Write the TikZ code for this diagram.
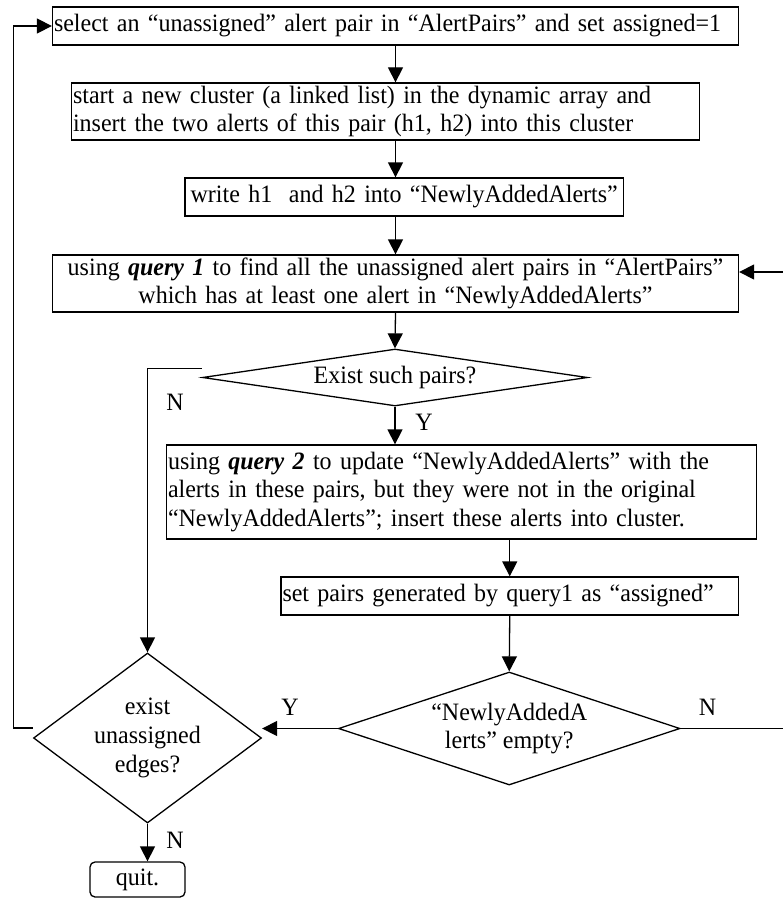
\documentclass[tikz,border=0pt]{standalone}
\usepackage{fontspec}
\setmainfont[FakeStretch=0.96]{Liberation Serif}
\usetikzlibrary{shapes.geometric,arrows.meta}
\begin{document}
\begin{tikzpicture}[x=1pt,y=-1pt,
  font=\fontsize{25}{28.75}\selectfont,
  every path/.style={line width=1.3pt},
  box/.style={draw, line width=1.3pt, rectangle, inner xsep=1.5pt, inner ysep=0pt, anchor=center},
  dec/.style={draw, line width=1.3pt, diamond, inner sep=0pt, align=center, anchor=center},
  arr/.style={-{Triangle[length=15pt,width=15pt]}},
  lbl/.style={inner sep=0pt, anchor=center}]
\useasboundingbox (0,0) rectangle (783,899);
% boxes
\node[box, text width=683pt, minimum height=38pt, align=left] (b1) at (395.5,26)
  {\mbox{select an “unassigned” alert pair in “AlertPairs” and set assigned=1}};
\node[box, text width=625pt, minimum height=57pt, align=left] (b2) at (385.5,111.5)
  {start a new cluster (a linked list) in the dynamic array and\\insert the two alerts of this pair (h1, h2) into this cluster};
\node[box, text width=435.5pt, minimum height=38pt, align=center] (b3) at (404.25,197)
  {write h1\ \ and h2 into “NewlyAddedAlerts”};
\node[box, text width=683pt, minimum height=57pt, align=center] (b4) at (395.5,283.5)
  {using \textbf{\textit{query 1}} to find all the unassigned alert pairs in “AlertPairs”\\which has at least one alert in “NewlyAddedAlerts”};
\node[dec, minimum width=385pt, minimum height=57pt, aspect=6.75] (d1) at (395,377.5)
  {Exist such pairs?};
\node[box, text width=587pt, minimum height=94pt, align=left] (b5) at (461.5,492)
  {using \textbf{\textit{query 2}} to update “NewlyAddedAlerts” with the\\alerts in these pairs, but they were not in the original\\“NewlyAddedAlerts”; insert these alerts into cluster.};
\node[box, text width=454.5pt, minimum height=38pt, align=left] (b6) at (509.75,596)
  {set pairs generated by query1 as “assigned”};
\node[dec, minimum width=341.5pt, minimum height=113pt, aspect=3.0] (d2) at (509.25,728.5)
  {“NewlyAddedA\\lerts” empty?};
\node[dec, minimum width=228pt, minimum height=170pt, aspect=1.34] (d3) at (147.5,738)
  {exist\\unassigned\\edges?};
\node[box, rounded corners=5pt, minimum width=95pt, minimum height=35pt, align=center] (q) at (137.5,879.5)
  {quit.};
% helper coordinates
\coordinate (lf) at (13.5,0);
\coordinate (rt) at (786,0);
% connectors
\draw[arr] (b1.south) -- (b1.south |- b2.north);
\draw[arr] (b1.south |- b2.south) -- (b1.south |- b3.north);
\draw[arr] (b1.south |- b3.south) -- (b4.north);
\draw[arr] (b4.south) -- (d1.north);
\draw[arr] (d1.south) -- (d1.south |- b5.north);
\draw[arr] (b6.north |- b5.south) -- (b6.north);
\draw[arr] (b6.south) -- (d2.north);
\draw[arr] (d2.west) -- (d2.west -| d3.east);
\draw[arr] (d2.east) -- (d2.east -| rt) |- ([yshift=11.5pt]b4.east);
\draw[arr] ([yshift=9pt]d1.west) -| (d3.north);
\draw[arr] ([yshift=10pt]d3.west) -- ([yshift=10pt]d3.west -| lf) |- (b1.west);
\draw[arr] (d3.south) -- (d3.south |- q.north);
% labels
\node[lbl] (yl1) at (424,422) {Y};
\node[lbl] (nl1) at (175,402) {N};
\node[lbl] (yl2) at (290,707) {Y};
\node[lbl] (nl2) at (707.5,707) {N};
\node[lbl] (nl3) at (175,840) {N};
\end{tikzpicture}
\end{document}
